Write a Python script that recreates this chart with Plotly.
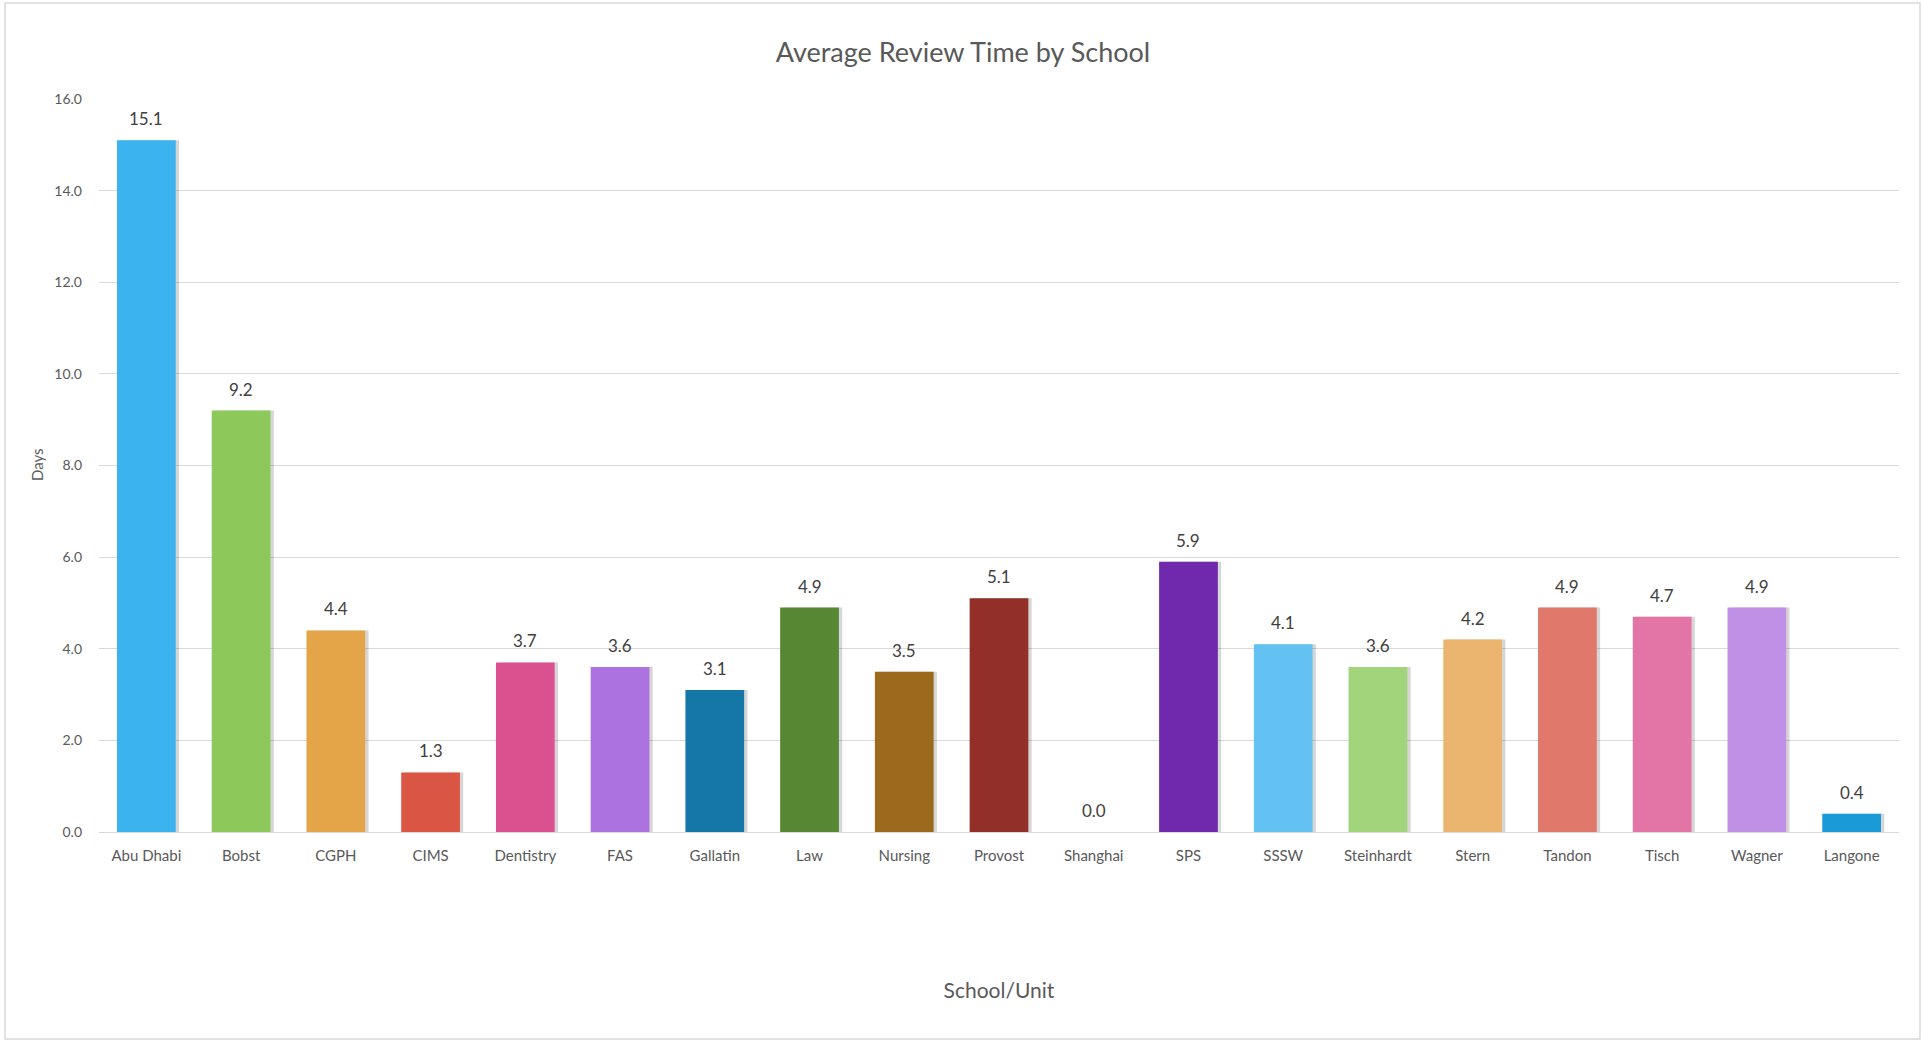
import plotly.graph_objects as go

schools = ["Abu Dhabi", "Bobst", "CGPH", "CIMS", "Dentistry", "FAS", "Gallatin", "Law",
           "Nursing", "Provost", "Shanghai", "SPS", "SSSW", "Steinhardt", "Stern", "Tandon",
           "Tisch", "Wagner", "Langone"]
days = [15.1, 9.2, 4.4, 1.3, 3.7, 3.6, 3.1, 4.9, 3.5, 5.1, 0.0, 5.9, 4.1, 3.6, 4.2, 4.9, 4.7, 4.9, 0.4]
colors = ["#3BB3EE", "#8CC95A", "#E4A548", "#DB5545", "#DB5190", "#AB72E0", "#1477A8", "#578733",
          "#9C6A1D", "#912F28", "#7F7F7F", "#7029AC", "#63C2F2", "#A2D47C", "#ECB56F", "#E0796B",
          "#E274A6", "#C08FE6", "#1A9AD6"]
y_ticks = [0, 2, 4, 6, 8, 10, 12, 14, 16]

W, H = 1923, 1042
L, R, T, B = 99, 24, 99, 210
pw, ph = W - L - R, H - T - B

FONT = "Lato, 'Open Sans', sans-serif"
bar_w = 0.62
shadow_dx = 0.035

fig = go.Figure()
fig.add_trace(go.Bar(
    x=schools, y=days, width=bar_w, offset=-bar_w / 2 + shadow_dx,
    marker=dict(color="rgba(0,0,0,0.16)", line=dict(width=0)),
    hoverinfo="skip", showlegend=False,
))
fig.add_trace(go.Bar(
    x=schools, y=days, width=bar_w, offset=-bar_w / 2,
    marker=dict(color=colors, line=dict(width=0)),
    showlegend=False,
))

for s, v in zip(schools, days):
    fig.add_annotation(x=s, y=v, text=f"{v:.1f}", showarrow=False,
                       xanchor="center", yanchor="bottom", yshift=9,
                       font=dict(family=FONT, size=17, color="#404040"))

# y-axis title "Days"
fig.add_annotation(xref="paper", yref="paper", x=(37 - L) / pw, y=(T + ph - 465) / ph,
                   text="Days", textangle=-90, showarrow=False,
                   xanchor="center", yanchor="middle",
                   font=dict(family=FONT, size=15, color="#595959"))

fig.update_layout(
    width=W, height=H,
    margin=dict(l=L, r=R, t=T, b=B),
    barmode="overlay",
    paper_bgcolor="white", plot_bgcolor="white",
    title=dict(text="Average Review Time by School", x=963 / W,
               xanchor="center", y=1 - 53 / H, yanchor="middle",
               font=dict(family=FONT, size=27, color="#595959")),
    xaxis=dict(
        tickfont=dict(family=FONT, size=15, color="#595959"),
        showgrid=False, showline=True, linecolor="#D9D9D9", linewidth=1,
        ticks="", ticklabelstandoff=10,
        title=dict(text="School/Unit", font=dict(family=FONT, size=21, color="#595959"),
                   standoff=120),
    ),
    yaxis=dict(
        range=[0, 16], tickvals=y_ticks, tickformat=".1f",
        tickfont=dict(family=FONT, size=14, color="#595959"),
        showgrid=True, gridcolor="#D9D9D9", gridwidth=1,
        zeroline=True, zerolinecolor="#D9D9D9", zerolinewidth=1,
        ticks="", ticklabelstandoff=16,
    ),
    shapes=[dict(
        type="rect", xref="paper", yref="paper",
        x0=(5 - L) / pw, x1=(1920 - L) / pw,
        y0=(T + ph - 1039) / ph, y1=(T + ph - 3) / ph,
        line=dict(color="#D9D9D9", width=1.5), fillcolor="rgba(0,0,0,0)", layer="below",
    )],
)

fig.write_html("out.html", config={"displayModeBar": False},
               post_script="document.body.style.margin='0';document.body.style.overflow='hidden';")
